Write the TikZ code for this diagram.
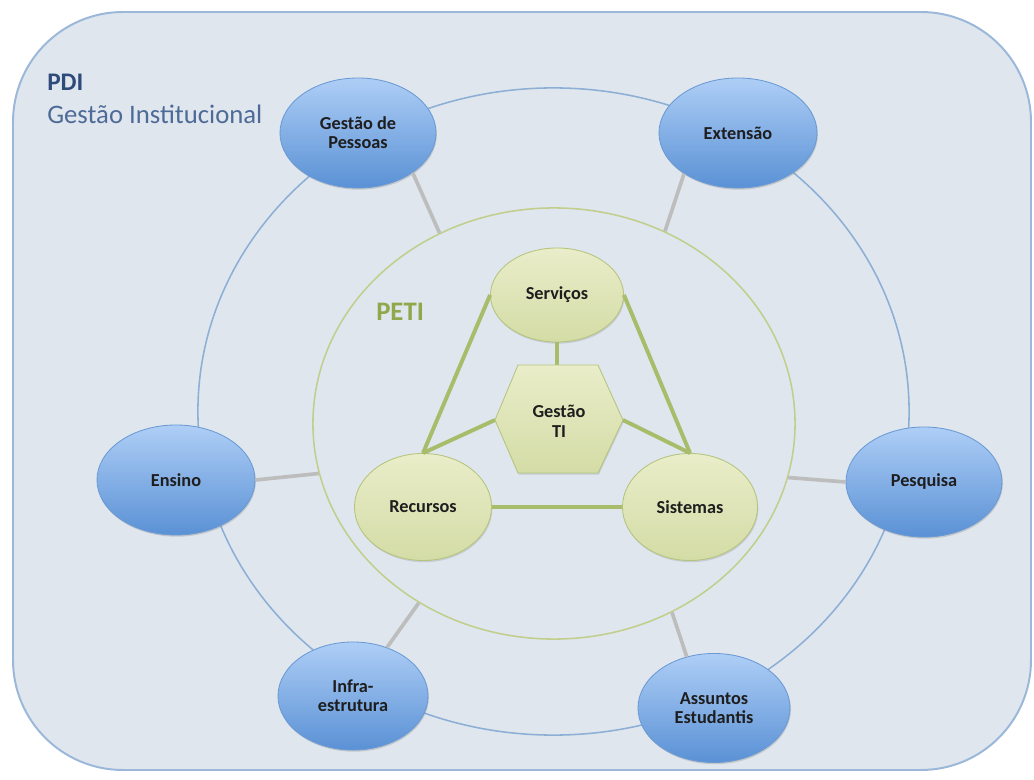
\documentclass[tikz,border=0pt]{standalone}
\usepackage{fontspec}
\setmainfont{Carlito}
\usetikzlibrary{shapes.geometric,shadows}
\definecolor{bgfill}{HTML}{DFE6EE}
\definecolor{bgborder}{HTML}{9BB7D9}
\definecolor{ringblue}{HTML}{8DAFD6}
\definecolor{ringgreen}{HTML}{C2CE8C}
\definecolor{graylink}{HTML}{BDBDBD}
\definecolor{bluetop}{HTML}{AECEF6}
\definecolor{bluebot}{HTML}{5A91D5}
\definecolor{bluedraw}{HTML}{6A9AD4}
\definecolor{greentop}{HTML}{E9EDC9}
\definecolor{greenbot}{HTML}{D4DCA6}
\definecolor{greendraw}{HTML}{B4C47C}
\definecolor{greenlink}{HTML}{A9BC6A}
\definecolor{pditext}{HTML}{2F4B7C}
\definecolor{gestext}{HTML}{4E6B98}
\definecolor{petitext}{HTML}{8EA84A}
\definecolor{labeltext}{HTML}{1E1E1E}
\tikzset{
  blueell/.style={ellipse, draw=bluedraw, line width=0.6pt, top color=bluetop, bottom color=bluebot,
    inner sep=0pt, align=center, text=labeltext, font=\fontsize{13}{13.5}\selectfont\bfseries,
    drop shadow={shadow xshift=0.6pt, shadow yshift=-1.2pt, opacity=0.3}},
  greenell/.style={ellipse, draw=greendraw, line width=0.6pt, top color=greentop, bottom color=greenbot,
    inner sep=0pt, align=center, text=labeltext, font=\fontsize{13}{13.5}\selectfont\bfseries,
    drop shadow={shadow xshift=0.6pt, shadow yshift=-1.2pt, opacity=0.25}},
  ring/.style={ellipse, inner sep=0pt, line width=1.1pt},
  graylinkstyle/.style={draw=graylink, line width=2.6pt},
  greenlinkstyle/.style={draw=greenlink, line width=2.8pt},
}
\begin{document}
\begin{tikzpicture}[x=0.025cm,y=-0.025cm]
\useasboundingbox (0,0) rectangle (1034,780);
\fill[white] (0,0) rectangle (1034,780);
% background panel
\draw[fill=bgfill, draw=bgborder, line width=1.4pt, rounded corners=2.75cm] (13,12) rectangle (1031,770);
% rings
\node[ring, draw=ringblue, minimum width=17.775cm, minimum height=16.175cm] (outer) at (553.5,411.5) {};
\node[ring, draw=ringgreen, minimum width=12.05cm, minimum height=10.775cm] (peti) at (554,423.5) {};
% titles
\node[anchor=base west, inner sep=0pt, text=pditext, font=\fontsize{18}{20}\selectfont\bfseries] (pdi) at (47,91) {PDI};
\node[anchor=base west, inner sep=0pt, text=gestext, font=\fontsize{19}{21}\selectfont] (gestinst) at (47,124) {Gestão Institucional};
\node[anchor=base west, inner sep=0pt, text=petitext, font=\fontsize{19}{21}\selectfont\bfseries] (petilabel) at (376,321) {PETI};
% outer blue nodes
\node[blueell, minimum width=3.9cm, minimum height=2.75cm] (gp) at (358,133) {Gestão de\\Pessoas};
\node[blueell, minimum width=3.95cm, minimum height=2.75cm] (ext) at (738,133) {Extensão};
\node[blueell, minimum width=3.95cm, minimum height=2.75cm] (ens) at (176,480) {Ensino};
\node[blueell, minimum width=3.9cm, minimum height=2.75cm] (pes) at (924,482) {Pesquisa};
\node[blueell, minimum width=3.75cm, minimum height=2.7cm] (inf) at (353,696) {Infra-\\estrutura};
\node[blueell, minimum width=3.8cm, minimum height=2.725cm] (ass) at (714,708) {Assuntos\\Estudantis};
% gray connectors
\draw[graylinkstyle] (peti.121.8) -- (gp.-36.4);
\draw[graylinkstyle] (peti.60.8) -- (ext.-143.1);
\draw[graylinkstyle] (peti.192.5) -- (ens.0);
\draw[graylinkstyle] (peti.-13.9) -- (pes.180);
\draw[graylinkstyle] (peti.233.3) -- (inf.55.5);
\draw[graylinkstyle] (peti.-58.8) -- (ass.118.7);
% hexagon vertices
\coordinate (hN) at (557,365);
\coordinate (hNW) at (518,365);
\coordinate (hNE) at (598,365);
\coordinate (hE) at (623,420);
\coordinate (hSE) at (598,473);
\coordinate (hSW) at (518,473);
\coordinate (hW) at (495,420);
% inner green nodes
\node[greenell, minimum width=3.325cm, minimum height=2.35cm] (serv) at (557,295) {Serviços};
\node[greenell, minimum width=3.425cm, minimum height=2.675cm] (rec) at (423,507) {Recursos};
\node[greenell, minimum width=3.375cm, minimum height=2.675cm] (sis) at (690,507) {Sistemas};
% green connectors
\draw[greenlinkstyle] (serv.west) -- (rec.north);
\draw[greenlinkstyle] (serv.east) -- (sis.north);
\draw[greenlinkstyle] (rec.east) -- (sis.west);
\draw[greenlinkstyle] (serv.south) -- (hN);
\draw[greenlinkstyle] (hW) -- (rec.north);
\draw[greenlinkstyle] (hE) -- (sis.north);
% hexagon
\path[draw=greendraw, line width=0.6pt, top color=greentop, bottom color=greenbot,
  drop shadow={shadow xshift=0.6pt, shadow yshift=-1.2pt, opacity=0.25}]
  (hNW) -- (hNE) -- (hE) -- (hSE) -- (hSW) -- (hW) -- cycle;
\node[inner sep=0pt, align=center, text=labeltext, font=\fontsize{13}{14.5}\selectfont\bfseries] (gti) at (559,421) {Gestão\\TI};
\end{tikzpicture}
\end{document}
